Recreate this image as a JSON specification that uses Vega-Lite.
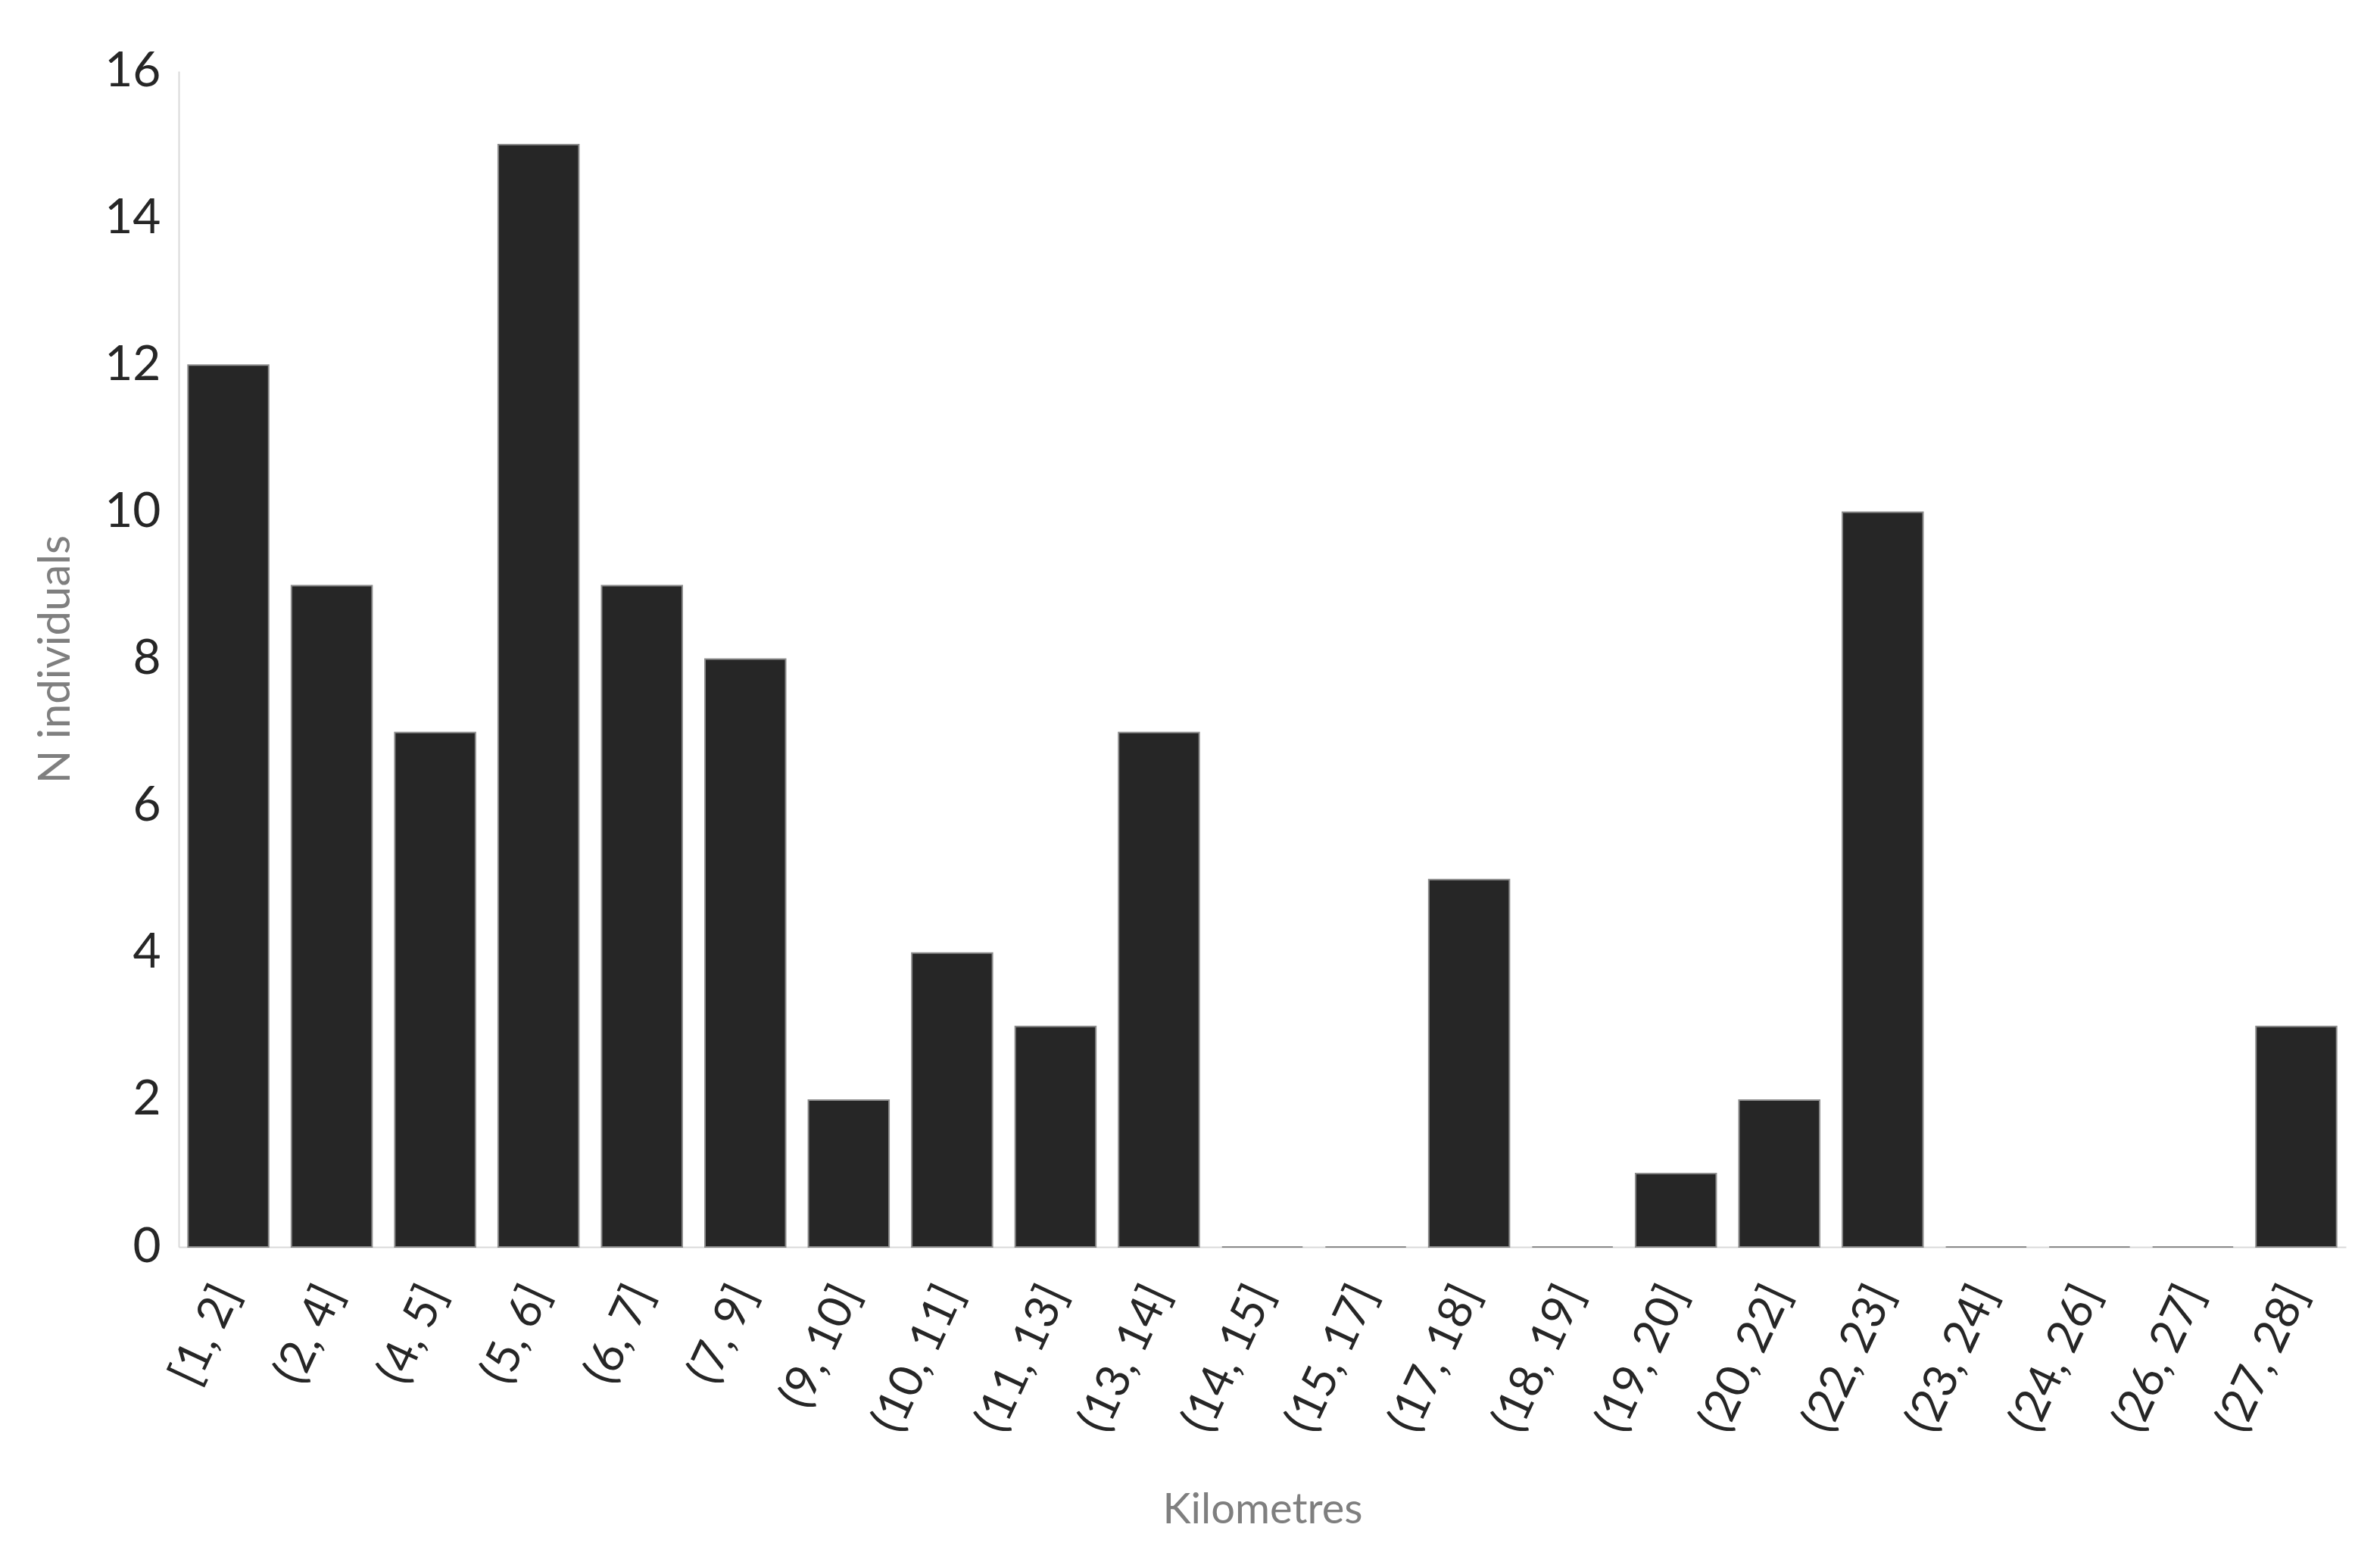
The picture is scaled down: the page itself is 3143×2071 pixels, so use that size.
{
  "$schema": "https://vega.github.io/schema/vega-lite/v6.json",
  "autosize": {"type": "none"},
  "padding": {"left": 236, "top": 94, "right": 45, "bottom": 424},
  "width": 2862,
  "height": 1553,
  "background": "white",
  "config": {"view": {"stroke": null}, "font": "Lato"},
  "data": {"values": [
    {"km": "[1, 2]", "n": 12},
    {"km": "(2, 4]", "n": 9},
    {"km": "(4, 5]", "n": 7},
    {"km": "(5, 6]", "n": 15},
    {"km": "(6, 7]", "n": 9},
    {"km": "(7, 9]", "n": 8},
    {"km": "(9, 10]", "n": 2},
    {"km": "(10, 11]", "n": 4},
    {"km": "(11, 13]", "n": 3},
    {"km": "(13, 14]", "n": 7},
    {"km": "(14, 15]", "n": 0},
    {"km": "(15, 17]", "n": 0},
    {"km": "(17, 18]", "n": 5},
    {"km": "(18, 19]", "n": 0},
    {"km": "(19, 20]", "n": 1},
    {"km": "(20, 22]", "n": 2},
    {"km": "(22, 23]", "n": 10},
    {"km": "(23, 24]", "n": 0},
    {"km": "(24, 26]", "n": 0},
    {"km": "(26, 27]", "n": 0},
    {"km": "(27, 28]", "n": 3}
  ]},
  "mark": {"type": "bar", "fill": "#262626", "stroke": "#8c8c8c", "strokeWidth": 2},
  "encoding": {
    "x": {
      "field": "km", "type": "nominal", "sort": null,
      "scale": {"paddingInner": 0.22, "paddingOuter": 0.09},
      "axis": {
        "title": "Kilometres", "titleFont": "Lato", "titleFontSize": 56, "titleFontWeight": "normal", "titleColor": "#7f7f7f",
        "titlePadding": 120,
        "labelAngle": -65, "labelFontSize": 61, "labelColor": "#262626", "labelPadding": 54, "labelLimit": 0,
        "ticks": false, "domainColor": "#d9d9d9", "domainWidth": 2
      }
    },
    "y": {
      "field": "n", "type": "quantitative",
      "scale": {"domain": [0, 16]},
      "axis": {
        "title": "N individuals", "titleFont": "Lato", "titleFontSize": 58, "titleFontWeight": "normal", "titleColor": "#7f7f7f",
        "titlePadding": 34,
        "values": [0, 2, 4, 6, 8, 10, 12, 14, 16],
        "labelFontSize": 64, "labelColor": "#262626", "labelPadding": 24,
        "ticks": false, "grid": false, "domainColor": "#d9d9d9", "domainWidth": 2
      }
    }
  }
}
